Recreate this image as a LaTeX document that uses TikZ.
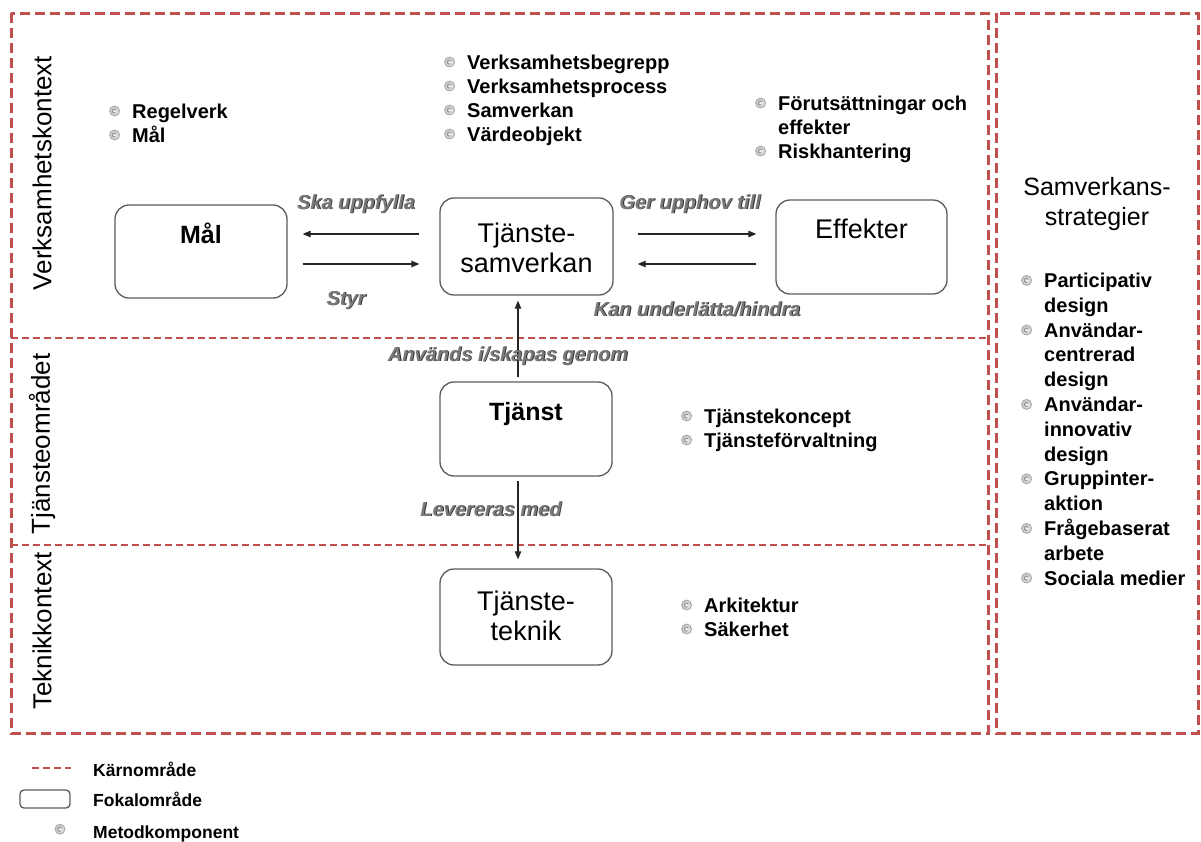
\documentclass[tikz,border=0pt]{standalone}
\usepackage{fontspec}
\setmainfont{Liberation Sans}
\usetikzlibrary{arrows.meta,calc}

\definecolor{coreRed}{HTML}{C0504D}
\definecolor{lblGray}{HTML}{7A7A7A}
\definecolor{lblShadow}{HTML}{2A2A2A}
\definecolor{boxEdge}{HTML}{5A5A5A}

% small grey "method component" bullet
\newcommand\methodbullet{\tikz[x=1pt,y=1pt,baseline=-7pt]{%
  \shade[inner color=gray!10, outer color=gray!45] (0,0) circle (5);
  \draw[gray!70, line width=0.8pt] (0,0) circle (5);
  \draw[gray!85, line width=1pt] (1.7,1) arc[start angle=30,end angle=300,radius=2.1];}}
\newcommand\bitem[1]{\makebox[23pt][l]{\methodbullet}#1}
\newcommand\bcont[1]{\hspace*{23pt}#1}
% grey italic relation label with a dark drop shadow
\newcommand\shadowed[1]{\leavevmode\rlap{\kern0.9pt\raisebox{-0.9pt}{\color{lblShadow}#1}}{\color{lblGray}#1}}

\begin{document}
\begin{tikzpicture}[x=1pt,y=-1pt,
  frameline/.style={draw=coreRed, line width=3pt, dash pattern=on 10pt off 5pt},
  zoneline/.style={draw=coreRed, line width=2pt, dash pattern=on 7pt off 4pt},
  fokal/.style={draw=boxEdge, line width=1.3pt, rounded corners=14pt, inner sep=0pt},
  boxtxt/.style={font=\fontsize{27}{30}\selectfont, align=center, inner sep=0pt, anchor=base},
  boxbold/.style={font=\fontsize{25}{30}\selectfont\bfseries, inner sep=0pt, anchor=base},
  listtxt/.style={font=\fontsize{20}{24}\selectfont\bfseries, align=left, inner sep=0pt, anchor=base west},
  sidelabel/.style={font=\fontsize{26}{30}\selectfont, rotate=90, inner sep=0pt},
  elabel/.style={font=\fontsize{20}{24}\selectfont\bfseries\itshape, inner sep=0pt, anchor=base},
  conn/.style={draw=black!85, line width=1.1pt, -{Triangle[length=8pt,width=6.5pt]}},
  legtxt/.style={font=\fontsize{17.5}{20}\selectfont\bfseries, inner sep=0pt, anchor=base west}]

\useasboundingbox (0,0) rectangle (1201,841);

% core areas
\draw[frameline] (11,13) rectangle (988,733);
\draw[frameline] (996,13) rectangle (1198,733);
\draw[zoneline] (11,338) -- (988,338);
\draw[zoneline] (11,545) -- (988,545);

% context labels
\node[sidelabel] (ctxV) at (42,173) {Verksamhetskontext};
\node[sidelabel] (ctxT) at (42,444) {Tjänsteområdet};
\node[sidelabel] (ctxK) at (42,631) {Teknikkontext};

% focal areas
\node[fokal, minimum width=172pt, minimum height=93pt] (mal) at (201,251.5) {};
\node[fokal, minimum width=173pt, minimum height=97pt] (sam) at (526.5,246.5) {};
\node[fokal, minimum width=171pt, minimum height=94pt] (eff) at (861.5,247) {};
\node[fokal, minimum width=172pt, minimum height=94pt] (tj) at (526,429) {};
\node[fokal, minimum width=172pt, minimum height=96pt] (tek) at (526,617) {};

% (multi-line nodes are placed by the baseline of their last line)
\node[boxbold] (malT) at (201,243) {Mål};
\node[boxtxt] (samT) at (526.5,272) {Tjänste-\\samverkan};
\node[boxtxt] (effT) at (861.5,238) {Effekter};
\node[boxbold] (tjT) at (526,420) {Tjänst};
\node[boxtxt] (tekT) at (526,640) {Tjänste-\\teknik};

% relations
\draw[conn, shorten <=20pt, shorten >=15pt] (sam.west |- 0,234) -- (mal.east |- 0,234);
\draw[conn, shorten <=15pt, shorten >=20pt] (mal.east |- 0,264) -- (sam.west |- 0,264);
\draw[conn, shorten <=24pt, shorten >=19pt] (sam.east |- 0,234) -- (eff.west |- 0,234);
\draw[conn, shorten <=19pt, shorten >=24pt] (eff.west |- 0,264) -- (sam.east |- 0,264);
\draw[conn, shorten <=4pt, shorten >=5pt] (tj.north -| 518,0) -- (sam.south -| 518,0);
\draw[conn, shorten <=4pt, shorten >=9pt] (tj.south -| 518,0) -- (tek.north -| 518,0);

\node[elabel] (lSka) at (356,209) {\shadowed{Ska uppfylla}};
\node[elabel] (lStyr) at (346,305) {\shadowed{Styr}};
\node[elabel] (lGer) at (690,209) {\shadowed{Ger upphov till}};
\node[elabel] (lKan) at (697,316) {\shadowed{Kan underlätta/hindra}};
\node[elabel] (lAnv) at (508,361) {\shadowed{Används i/skapas genom}};
\node[elabel] (lLev) at (491,516) {\shadowed{Levereras med}};

% method components
\node[listtxt] (mGoal) at (109,142) {\bitem{Regelverk}\\\bitem{Mål}};
\node[listtxt] (mSam) at (444,141) {\bitem{Verksamhetsbegrepp}\\\bitem{Verksamhetsprocess}\\\bitem{Samverkan}\\\bitem{Värdeobjekt}};
\node[listtxt] (mEff) at (755,158) {\bitem{Förutsättningar och}\\\bcont{effekter}\\\bitem{Riskhantering}};
\node[listtxt] (mTj) at (681,447) {\bitem{Tjänstekoncept}\\\bitem{Tjänsteförvaltning}};
\node[listtxt] (mTek) at (681,636) {\bitem{Arkitektur}\\\bitem{Säkerhet}};

% cooperation strategies
\node[font=\fontsize{25}{30}\selectfont, align=center, inner sep=0pt, anchor=base] (strat) at (1097,225) {Samverkans-\\strategier};
\node[listtxt, font=\fontsize{20}{24.8}\selectfont\bfseries] (mStrat) at (1021,585) {\bitem{Participativ}\\\bcont{design}\\\bitem{Användar-}\\\bcont{centrerad}\\\bcont{design}\\\bitem{Användar-}\\\bcont{innovativ}\\\bcont{design}\\\bitem{Gruppinter-}\\\bcont{aktion}\\\bitem{Frågebaserat}\\\bcont{arbete}\\\bitem{Sociala medier}};

% legend
\coordinate (legA) at (32,768);
\coordinate (legB) at (71,768);
\draw[zoneline] (legA) -- (legB);
\node[legtxt] (legCore) at (93,776) {Kärnområde};
\node[fokal, rounded corners=4pt, minimum width=50pt, minimum height=18pt] (legBox) at (45,799) {};
\node[legtxt] (legFok) at (93,806) {Fokalområde};
\node[inner sep=0pt] (legBul) at (60,830) {\methodbullet};
\node[legtxt] (legMet) at (93,838) {Metodkomponent};

\end{tikzpicture}
\end{document}
